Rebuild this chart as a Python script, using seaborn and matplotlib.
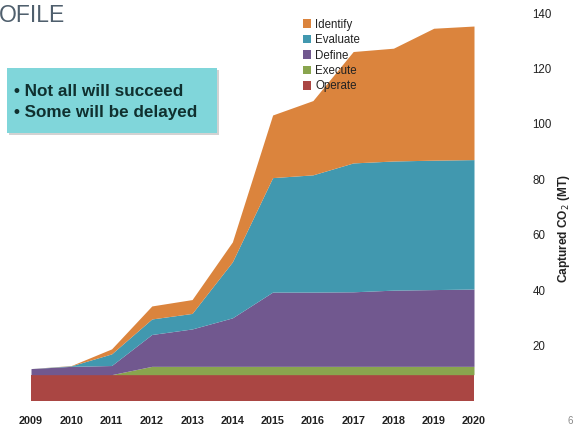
import matplotlib
matplotlib.use("Agg")
import matplotlib.pyplot as plt
from matplotlib.patches import Rectangle, Patch
import seaborn as sns

years = [2009, 2010, 2011, 2012, 2013, 2014, 2015, 2016, 2017, 2018, 2019, 2020]
operate = [9.5, 9.5, 9.5, 9.5, 9.5, 9.5, 9.5, 9.5, 9.5, 9.5, 9.5, 9.5]
execute = [0, 0, 0, 3, 3, 3, 3, 3, 3, 3, 3, 3]
define = [2.2, 3.0, 3.3, 11.5, 13.5, 17.5, 26.8, 26.8, 26.9, 27.5, 27.7, 27.9]
evaluate = [0, 0.2, 4.2, 5.6, 5.6, 20.2, 41.3, 42.3, 46.5, 46.6, 46.7, 46.7]
identify = [0, 0.1, 1.8, 4.7, 5.0, 7.2, 22.6, 26.8, 40.2, 40.7, 47.6, 48.2]
series_names = ["Operate", "Execute", "Define", "Evaluate", "Identify"]
colors = ["#AA4643", "#89A54E", "#71588F", "#4198AF", "#DB843D"]
yticks = [20, 40, 60, 80, 100, 120, 140]

sns.set_theme(style="white")
plt.rcParams['font.family'] = ['Liberation Sans', 'DejaVu Sans']

fig = plt.figure(figsize=(5.74, 4.28), dpi=100)
ax = fig.add_axes([31/574, 27/428, 443/574, 388/428])

ax.stackplot(years, operate, execute, define, evaluate, identify,
             colors=colors, labels=series_names, linewidth=0)
ax.set_xlim(2009, 2020)
ax.set_ylim(0, 140)
for s in ax.spines.values():
    s.set_visible(False)
ax.grid(False)

ax.set_xticks(years)
ax.set_xticklabels([str(y) for y in years], fontsize=7.8, fontweight='bold', color='#222222')
ax.tick_params(axis='x', length=0, pad=11)
ax.yaxis.tick_right()
ax.set_yticks(yticks)
ax.set_yticklabels([str(v) for v in yticks], fontsize=8.3, color='#222222')
ax.tick_params(axis='y', length=0, pad=42)
ax.yaxis.set_label_position('right')
ax.set_ylabel("Captured CO$_2$ (MT)", fontsize=8.6, fontweight='bold', color='#222222')
ax.yaxis.set_label_coords((556-31)/443, 0.445)

handles = [Patch(facecolor=c, edgecolor='none') for c in colors][::-1]
leg = ax.legend(handles, series_names[::-1], loc='upper left',
                bbox_to_anchor=((298-31)/443, (428-14-27)/388), frameon=False,
                fontsize=8.3, handlelength=0.75, handleheight=0.75,
                handletextpad=0.35, labelspacing=0.3, borderaxespad=0)
for t in leg.get_texts():
    t.set_color('#222222')

# Title fragment
fig.text(-0.002, 1 - 16/428, "OFILE", fontsize=16.5, color='#4F5F6D',
         ha='left', va='center')

# Callout box
W, H = 574, 428
fig.patches.append(Rectangle(((7+2)/W, 1 - (133+2)/H), 210/W, 65/H,
                             transform=fig.transFigure, facecolor='#b5b5b5',
                             edgecolor='none', alpha=0.6, zorder=1))
fig.patches.append(Rectangle((7/W, 1 - 133/H), 210/W, 65/H,
                             transform=fig.transFigure, facecolor='#80D6DA',
                             edgecolor='none', zorder=2))
fig.text(14/W, 1 - 92/H, "• Not all will succeed", fontsize=12.3, fontweight='bold',
         color='#10302F', ha='left', va='center', zorder=3)
fig.text(14/W, 1 - 112/H, "• Some will be delayed", fontsize=12.3, fontweight='bold',
         color='#10302F', ha='left', va='center', zorder=3)

fig.text(567/W, 1 - 421/H, "6", fontsize=7, color='#888888', ha='left', va='center')

fig.savefig("out.png", dpi=100)
